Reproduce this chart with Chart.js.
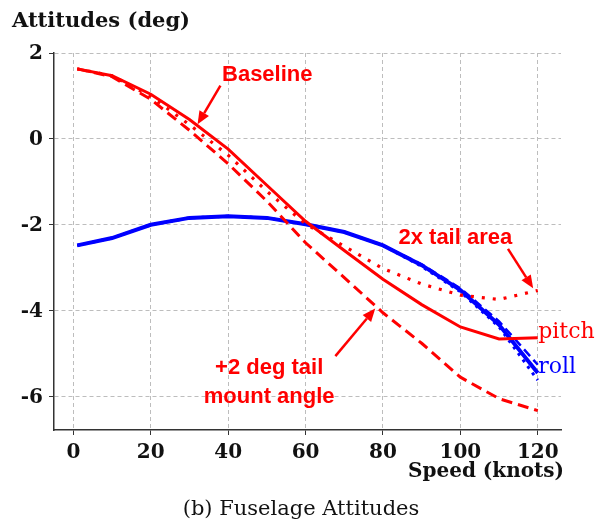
<!DOCTYPE html>
<html><head><meta charset="utf-8">
<script src="https://cdn.jsdelivr.net/npm/chart.js@4/dist/chart.umd.min.js"></script>
<style>html,body{margin:0;padding:0;background:#fff;overflow:hidden}#wrap{width:606px;height:522px;position:relative}</style>
</head><body><div id="wrap"><canvas id="c" width="606" height="522"></canvas></div>
<script>
// ---- data ----
const speeds = [1, 10, 20, 30, 40, 50, 60, 70, 80, 90, 100, 110, 120];
const pitchBaseline = [1.63, 1.47, 1.04, 0.45, -0.24, -1.08, -1.92, -2.60, -3.27, -3.86, -4.38, -4.66, -4.63];
const pitch2xTail   = [1.63, 1.47, 0.99, 0.33, -0.38, -1.22, -1.98, -2.50, -3.02, -3.38, -3.64, -3.74, -3.53];
const pitchMount    = [1.63, 1.45, 0.92, 0.20, -0.58, -1.45, -2.42, -3.23, -4.05, -4.76, -5.55, -6.05, -6.33];
const rollBaseline  = [-2.48, -2.31, -2.00, -1.84, -1.80, -1.84, -1.99, -2.17, -2.48, -2.94, -3.52, -4.33, -5.45];
const roll2xTail    = [-2.48, -2.31, -2.00, -1.84, -1.80, -1.84, -1.99, -2.17, -2.48, -2.97, -3.56, -4.38, -5.62];
const rollMount     = [-2.48, -2.31, -2.00, -1.84, -1.80, -1.84, -1.99, -2.17, -2.48, -2.92, -3.48, -4.25, -5.26];
const xTicks = [0, 20, 40, 60, 80, 100, 120];
const yTicks = [2, 0, -2, -4, -6];

const titleText = 'Attitudes (deg)';
const xTitleText = 'Speed (knots)';
const captionText = '(b) Fuselage Attitudes';

// annotation texts and arrows, in data units
const noteTexts = [
  {text: 'Baseline', x: 50.1, y: 1.50},
  {text: '2x tail area', x: 98.7, y: -2.31},
  {text: '+2 deg tail', x: 50.6, y: -5.33},
  {text: 'mount angle', x: 50.6, y: -6.00}
];
const noteArrows = [
  {x0: 38.0, y0: 1.24, x1: 32.1, y1: 0.34},
  {x0: 112.3, y0: -2.56, x1: 118.8, y1: -3.48},
  {x0: 67.7, y0: -5.06, x1: 78.0, y1: -3.95}
];
const endLabels = [
  {text: 'pitch', x: 120.1, y: -4.64, color: '#ff0000'},
  {text: 'roll', x: 120.1, y: -5.45, color: '#0000ff'}
];

const RED = '#ff0000', BLUE = '#0000ff';
const pts = arr => speeds.map((s, i) => ({x: s, y: arr[i]}));

const textPlugin = {
  id: 'texts',
  afterDatasetsDraw(chart) {
    const ctx = chart.ctx, xs = chart.scales.x, ys = chart.scales.y;
    ctx.save();
    // annotation arrows
    ctx.strokeStyle = RED; ctx.fillStyle = RED; ctx.lineWidth = 2.5;
    noteArrows.forEach(a => {
      const x0 = xs.getPixelForValue(a.x0), y0 = ys.getPixelForValue(a.y0);
      const x1 = xs.getPixelForValue(a.x1), y1 = ys.getPixelForValue(a.y1);
      const ang = Math.atan2(y1 - y0, x1 - x0);
      const hl = 13, hw = 5.5;
      const bx = x1 - hl * Math.cos(ang), by = y1 - hl * Math.sin(ang);
      ctx.beginPath(); ctx.moveTo(x0, y0); ctx.lineTo(bx, by); ctx.stroke();
      ctx.beginPath();
      ctx.moveTo(x1, y1);
      ctx.lineTo(bx + hw * Math.sin(ang), by - hw * Math.cos(ang));
      ctx.lineTo(bx - hw * Math.sin(ang), by + hw * Math.cos(ang));
      ctx.closePath(); ctx.fill();
    });
    // annotation texts
    ctx.font = 'bold 22px "Liberation Sans", Arial, sans-serif';
    ctx.textAlign = 'center'; ctx.textBaseline = 'middle';
    noteTexts.forEach(t => ctx.fillText(t.text, xs.getPixelForValue(t.x), ys.getPixelForValue(t.y)));
    // end labels
    ctx.font = '22px "DejaVu Serif", serif';
    ctx.textAlign = 'left'; ctx.textBaseline = 'alphabetic';
    endLabels.forEach(t => { ctx.fillStyle = t.color; ctx.fillText(t.text, xs.getPixelForValue(t.x), ys.getPixelForValue(t.y)); });
    // titles
    ctx.fillStyle = '#111';
    ctx.font = 'bold 21px "DejaVu Serif", serif';
    ctx.textAlign = 'left';
    ctx.fillText(titleText, 12, 27);
    ctx.font = 'bold 20px "DejaVu Serif", serif';
    ctx.textAlign = 'right';
    ctx.fillText(xTitleText, 564, 477);
    ctx.font = '21px "DejaVu Serif", serif';
    ctx.textAlign = 'center';
    ctx.fillText(captionText, 301, 515);
    ctx.restore();
  }
};

const base = {pointRadius: 0, tension: 0, fill: false, borderCapStyle: 'butt'};
new Chart(document.getElementById('c'), {
  type: 'line',
  data: {
    datasets: [
      {...base, label: '+2 deg tail mount angle pitch', data: pts(pitchMount), borderColor: RED, borderWidth: 3, borderDash: [11, 6]},
      {...base, label: '2x tail area pitch', data: pts(pitch2xTail), borderColor: RED, borderWidth: 3.2, borderDash: [3, 8]},
      {...base, label: 'Baseline pitch', data: pts(pitchBaseline), borderColor: RED, borderWidth: 3},
      {...base, label: '+2 deg tail mount angle roll', data: pts(rollMount), borderColor: BLUE, borderWidth: 2.5, borderDash: [9, 5]},
      {...base, label: '2x tail area roll', data: pts(roll2xTail), borderColor: BLUE, borderWidth: 3, borderDash: [3, 5]},
      {...base, label: 'Baseline roll', data: pts(rollBaseline), borderColor: BLUE, borderWidth: 4}
    ]
  },
  options: {
    responsive: false,
    devicePixelRatio: 1,
    animation: false,
    layout: {padding: {top: 53, right: 45, left: 0, bottom: 0}},
    plugins: {legend: {display: false}, tooltip: {enabled: false}},
    scales: {
      x: {
        type: 'linear', min: -5, max: 126,
        afterBuildTicks: s => { s.ticks = xTicks.map(v => ({value: v})); },
        afterFit: s => { s.height = 92; },
        grid: {color: '#bdbdbd', lineWidth: 1, tickColor: '#333', tickLength: 5, drawTicks: true},
        border: {display: true, color: '#333', width: 1.5, dash: [4, 3]},
        ticks: {color: '#111', padding: 6, font: {family: '"DejaVu Serif", serif', weight: 'bold', size: 20}, maxRotation: 0}
      },
      y: {
        type: 'linear', min: -6.78, max: 2,
        afterBuildTicks: s => { s.ticks = yTicks.map(v => ({value: v})); },
        afterFit: s => { s.width = 54; },
        grid: {color: '#bdbdbd', lineWidth: 1, tickColor: '#333', tickLength: 5, drawTicks: true},
        border: {display: true, color: '#333', width: 1.5, dash: [4, 3]},
        ticks: {color: '#111', padding: 6, labelOffset: 1, font: {family: '"DejaVu Serif", serif', weight: 'bold', size: 20}}
      }
    }
  },
  plugins: [textPlugin]
});
</script></body></html>
